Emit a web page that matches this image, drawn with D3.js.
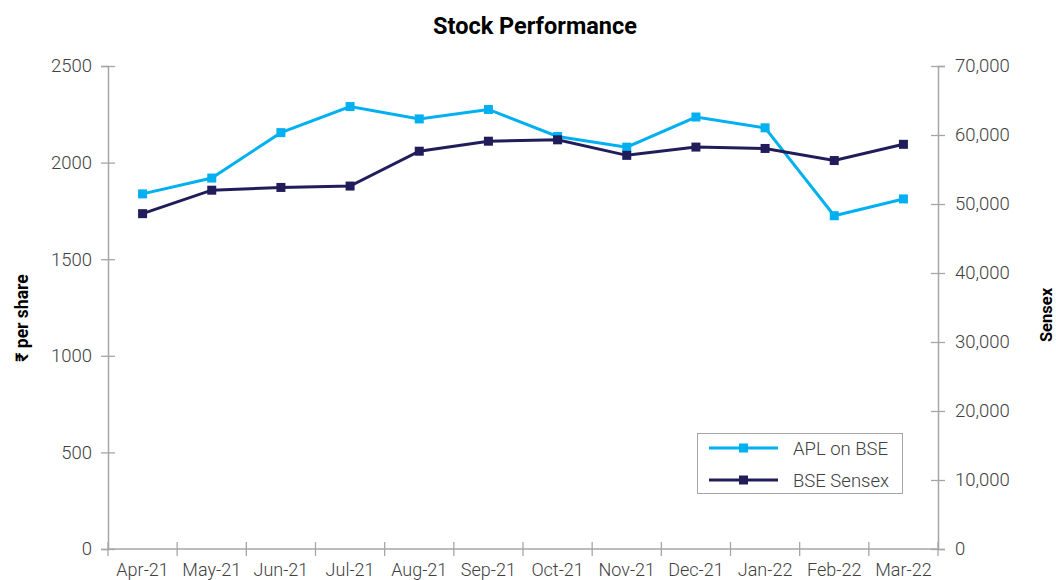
<!DOCTYPE html>
<html><head><meta charset="utf-8">
<script src="https://cdn.jsdelivr.net/npm/d3@7"></script>
<style>
body{margin:0;background:#fff;}
text{font-family:Roboto,"Noto Sans",sans-serif;}
</style></head>
<body><svg id="c" width="1056" height="580"></svg>
<script>
const months = ["Apr-21","May-21","Jun-21","Jul-21","Aug-21","Sep-21","Oct-21","Nov-21","Dec-21","Jan-22","Feb-22","Mar-22"];
const aplValues = [1838,1920,2155,2290,2226,2275,2135,2080,2236,2180,1725,1812];
const sensexValues = [48600,52000,52400,52600,57650,59100,59300,57050,58250,58050,56300,58650];
const leftTicks = [0,500,1000,1500,2000,2500];
const rightTicks = [0,10000,20000,30000,40000,50000,60000,70000];
const seriesNames = ["APL on BSE","BSE Sensex"];
const colors = ["#00b0f0","#201d5a"];

const svg = d3.select("#c");
const L = 108, R = 938, T = 66, B = 549;
const x = d3.scaleBand().domain(months).range([L,R]);
const yL = d3.scaleLinear().domain([0,2500]).range([B,T]);
const yR = d3.scaleLinear().domain([0,70000]).range([B,T]);
const axisCol = "#a6a6a6", textCol = "#404040";
const fs = 18.5;

// title
svg.append("text").attr("x",535).attr("y",34).attr("text-anchor","middle")
  .attr("font-size",23.5).attr("font-weight","bold").attr("fill","#000").text("Stock Performance");

// left axis
const gl = svg.append("g").attr("transform",`translate(${L},0)`)
  .call(d3.axisLeft(yL).tickValues(leftTicks).tickSize(7).tickPadding(9).tickFormat(d3.format("d")));
gl.selectAll(".tick line").attr("x2",7).attr("x1",-7);
// right axis
const gr = svg.append("g").attr("transform",`translate(${R},0)`)
  .call(d3.axisRight(yR).tickValues(rightTicks).tickSize(7).tickPadding(10).tickFormat(d3.format(",")));
gr.selectAll(".tick line").attr("x1",-7).attr("x2",7);
// bottom axis with boundary ticks
const gb = svg.append("g").attr("transform",`translate(0,${B})`)
  .call(d3.axisBottom(x).tickSize(0).tickPadding(14));
gb.selectAll(".tick text").attr("dy","0.71em");
const bounds = months.map(m=>x(m)).concat([R]);
gb.selectAll("line.bt").data(bounds).join("line").attr("class","bt")
  .attr("x1",d=>d).attr("x2",d=>d).attr("y1",-7).attr("y2",7).attr("stroke",axisCol).attr("stroke-width",1.3);

[gl,gr,gb].forEach(g=>{
  g.select(".domain").attr("stroke",axisCol).attr("stroke-width",1.5);
  g.selectAll(".tick line").attr("stroke",axisCol).attr("stroke-width",1.3);
  g.selectAll(".tick text").attr("fill",textCol).attr("font-size",fs).attr("font-weight",300).attr("font-family","Roboto, sans-serif");
});
gb.selectAll(".tick text").attr("font-size",18);
gb.select(".domain").attr("d",`M${L},0H${R}`);

// axis titles
svg.append("text").attr("transform","translate(28,318) rotate(-90)").attr("text-anchor","middle")
  .attr("font-size",17.5).attr("font-weight","bold").attr("fill","#000").text("₹ per share");
svg.append("text").attr("transform","translate(1052,315) rotate(-90)").attr("text-anchor","middle")
  .attr("font-size",16.5).attr("font-weight","bold").attr("fill","#000").text("Sensex");

// lines
const cx = m => x(m) + x.bandwidth()/2;
const series = [
  {vals: aplValues, y: yL, color: colors[0]},
  {vals: sensexValues, y: yR, color: colors[1]}
];
series.forEach(s=>{
  const line = d3.line().x((d,i)=>cx(months[i])).y(d=>s.y(d));
  svg.append("path").datum(s.vals).attr("d",line).attr("fill","none")
    .attr("stroke",s.color).attr("stroke-width",3);
  svg.append("g").selectAll("rect").data(s.vals).join("rect")
    .attr("x",(d,i)=>cx(months[i])-4.5).attr("y",d=>s.y(d)-4.5)
    .attr("width",9).attr("height",9).attr("fill",s.color);
});

// legend
const lg = svg.append("g");
lg.append("rect").attr("x",697.5).attr("y",433.5).attr("width",205).attr("height",60)
  .attr("fill","#fff").attr("stroke","#a6a6a6").attr("stroke-width",1);
seriesNames.forEach((n,i)=>{
  const yy = 448 + i*32;
  lg.append("line").attr("x1",709).attr("x2",778).attr("y1",yy).attr("y2",yy)
    .attr("stroke",colors[i]).attr("stroke-width",3);
  lg.append("rect").attr("x",743.5-4.5).attr("y",yy-4.5).attr("width",9).attr("height",9).attr("fill",colors[i]);
  lg.append("text").attr("x",793).attr("y",yy+6.5).attr("font-size",fs).attr("font-weight",300)
    .attr("fill",textCol).text(n);
});
</script></body></html>
